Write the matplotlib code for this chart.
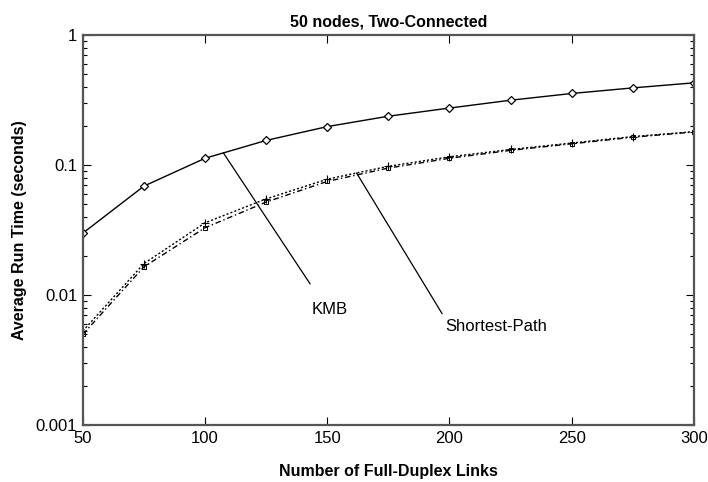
import numpy as np
import matplotlib
matplotlib.use("Agg")
import matplotlib.pyplot as plt
from matplotlib.ticker import FixedLocator, FuncFormatter, LogLocator, NullFormatter

plt.rcParams['font.family'] = ['Liberation Sans', 'DejaVu Sans']

# data
links = [50, 75, 100, 125, 150, 175, 200, 225, 250, 275, 300]
kmb = [0.030, 0.069, 0.113, 0.155, 0.198, 0.238, 0.275, 0.316, 0.356, 0.393, 0.43]
sp_a = [0.0053, 0.0175, 0.036, 0.055, 0.078, 0.098, 0.116, 0.132, 0.148, 0.166, 0.181]
sp_b = [0.0050, 0.0165, 0.033, 0.052, 0.075, 0.095, 0.113, 0.130, 0.146, 0.164, 0.180]

title = "50 nodes, Two-Connected"
xlabel = "Number of Full-Duplex Links"
ylabel = "Average Run Time (seconds)"


def on_curve(x, xs, ys):
    # point on a log-scaled curve, used to anchor the label leader lines
    return 10 ** np.interp(x, xs, np.log10(ys))


fig = plt.figure(figsize=(7.08, 4.82), dpi=100)
ax = fig.add_axes([0.117, 0.118, 0.863, 0.809])

ax.plot(links, kmb, color='black', lw=1.0, marker='D', ms=4.5,
        mfc='white', mec='black', mew=0.9)
ax.plot(links, sp_a, color='black', lw=1.0, ls=(0, (1.5, 1.5)),
        marker='+', ms=6, mew=0.8)
ax.plot(links, sp_b, color='black', lw=1.0, ls=(0, (4, 2, 1, 2)),
        marker='s', ms=3.5, mfc='none', mec='black', mew=0.7)

ax.set_yscale('log')
ax.set_xlim(50, 300)
ax.set_ylim(0.001, 1)

ax.xaxis.set_major_locator(FixedLocator([50, 100, 150, 200, 250, 300]))
ax.yaxis.set_major_locator(FixedLocator([0.001, 0.01, 0.1, 1]))
ax.yaxis.set_major_formatter(FuncFormatter(lambda v, p: '%g' % v))
ax.yaxis.set_minor_locator(LogLocator(base=10, subs=np.arange(2, 10)))
ax.yaxis.set_minor_formatter(NullFormatter())
ax.tick_params(which='both', direction='in', top=True, right=True,
               labelsize=12, color='black', width=0.8)
ax.tick_params(which='major', length=6, pad=4)
ax.tick_params(which='minor', length=3)
for s in ax.spines.values():
    s.set_color('#555555')
    s.set_linewidth(1.6)

ax.set_title(title, fontsize=11.5, fontweight='bold', pad=6)
ax.set_xlabel(xlabel, fontsize=11.5, fontweight='bold', labelpad=13)
ax.set_ylabel(ylabel, fontsize=11.5, fontweight='bold', labelpad=6)

# leader lines from the curves to their labels
kx = 107.5
ax.annotate('', xy=(kx, on_curve(kx, links, kmb)), xytext=(143, 0.0122),
            arrowprops=dict(arrowstyle='-', color='black', lw=0.9,
                            shrinkA=0, shrinkB=0))
ax.text(151, 0.0077, "KMB", fontsize=12, ha='center', va='center')

sx = 162
ax.annotate('', xy=(sx, on_curve(sx, links, sp_a)), xytext=(197, 0.0072),
            arrowprops=dict(arrowstyle='-', color='black', lw=0.9,
                            shrinkA=0, shrinkB=0))
ax.text(198.5, 0.0057, "Shortest-Path", fontsize=12, ha='left', va='center')

fig.savefig("out.png", dpi=100)
